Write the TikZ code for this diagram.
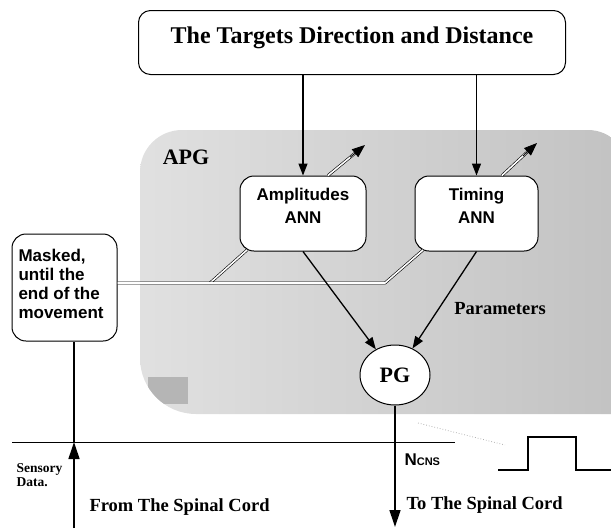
\documentclass[tikz,border=0pt]{standalone}
\usepackage{fontspec}
\setmainfont{Liberation Serif}
\newfontfamily\sansf{Liberation Sans}
\usetikzlibrary{arrows.meta,calc,shapes.geometric}
\begin{document}
\begin{tikzpicture}[x=1pt,y=-1pt,
  box/.style={draw, line width=1pt, rounded corners=14pt, fill=white},
  arr/.style={line width=1.3pt, -{Triangle[length=12pt,width=9pt]}},
  bigarr/.style={line width=1.3pt, -{Triangle[length=17pt,width=11pt]}},
  dbl/.style={draw=black, double=white, double distance=1.6pt, line width=0.6pt},
  dbltip/.style={line width=0.8pt, -{Triangle[length=13pt,width=10pt]}},
  serifb/.style={font=\fontsize{18.5}{20}\selectfont\bfseries},
  sansb/.style={font=\sansf\fontsize{17}{23}\selectfont\bfseries},
]
\useasboundingbox (0,0) rectangle (611,528);
% APG region
\def\regionpath{(628,414) [rounded corners=40pt] -- (628,130) [rounded corners=42pt] -- (140,130) [rounded corners=56pt] -- (140,414) [sharp corners] -- cycle}
\shade[left color=gray!24, middle color=gray!15, right color=gray!48] \regionpath;
\begin{scope}
  \clip \regionpath;
  \fill[gray!58] (148,377) rectangle (188,404);
\end{scope}
% title
\node[box, rounded corners=12pt, minimum width=427pt, inner sep=0pt, text height=33pt, text depth=31pt,
  anchor=north west, font=\fontsize{24}{26}\selectfont\bfseries] (title) at (138,10) {The Targets Direction and Distance};
% APG label
\node[font=\fontsize{22}{24}\selectfont\bfseries] (apg) at (186,157) {APG};
% ANN boxes
\node[box, minimum width=126pt, minimum height=75pt] (amp) at (303,213.5) {};
\node[sansb, align=center] (amptext) at (303,205.5) {Amplitudes\\ANN};
\node[box, minimum width=123pt, minimum height=75pt] (tim) at (476.5,213.5) {};
\node[sansb, align=center] (timtext) at (476.5,205.5) {Timing\\ANN};
% masked box
\node[box, minimum width=105pt, minimum height=107pt] (masked) at (64.5,287.5) {};
\node[font=\sansf\fontsize{17}{19}\selectfont\bfseries, align=left, anchor=west] (maskedtext) at (15,284) {Masked,\\until the\\end of the\\movement};
% PG
\node[draw, ellipse, line width=1pt, fill=white, minimum width=70pt, minimum height=60pt, inner sep=0pt,
  font=\fontsize{22}{24}\selectfont\bfseries] (pg) at (395,375) {PG};
% arrows from title
\draw[arr] (amp.north |- title.south) -- (amp.north);
\draw[arr] (tim.north |- title.south) -- (tim.north);
% double arrows upward
\coordinate (ampst) at ($(amp.north)+(25,0)$);
\coordinate (ampout) at (365,145);
\coordinate (timst) at ($(tim.north)+(25.5,0)$);
\coordinate (timout) at (537,143);
\draw[dbl, shorten >=8pt] (ampst) -- (ampout);
\draw[dbltip] ($(ampst)!0.6!(ampout)$) -- (ampout);
\draw[dbl, shorten >=8pt] (timst) -- (timout);
\draw[dbltip] ($(timst)!0.6!(timout)$) -- (timout);
% double lines to masked box
\coordinate (j0) at ($(masked.east)+(0,-4.5)$);
\coordinate (j1) at (210,283);
\coordinate (j2) at (385,283);
\coordinate (ampbl) at (247,250);
\coordinate (timbl) at (423,250);
\draw[dbl] (j1) -- (ampbl);
\draw[dbl] (j0) -- (j2) -- (timbl);
% arrows to PG
\draw[arr] (amp.south) -- (pg);
\draw[arr] (tim.south) -- (pg);
\node[serifb] (par) at (500,309) {Parameters};
% ground line
\coordinate (g0) at (12,442);
\coordinate (g1) at (455,442);
\draw[line width=1pt] (g0) -- (g1);
% dotted pointer
\coordinate (d1) at (418,423);
\coordinate (d2) at (505,445);
\draw[gray!60, dotted, line width=0.8pt] (d1) -- (d2);
% step signal
\coordinate (s0) at (498,470);
\coordinate (s1) at (528,470);
\coordinate (s2) at (528,437);
\coordinate (s3) at (576,437);
\coordinate (s4) at (576,470);
\coordinate (s5) at (611,470);
\draw[line width=1.1pt] (s0) -- (s1) -- (s2) -- (s3) -- (s4) -- (s5);
% sensory arrow
\coordinate (sb) at (74,528);
\coordinate (sg) at (74,442);
\draw[bigarr] (sb) -- (sg);
\draw[line width=1.3pt] (sg) -- (masked.south -| sg);
% PG output arrow
\coordinate (pb) at (395,527);
\draw[bigarr] (pg.south) -- (pb);
% texts
\node[font=\sansf\bfseries, anchor=west] (ncns) at (401,460) {\fontsize{17}{19}\selectfont N\fontsize{11}{12}\selectfont CNS};
\node[font=\fontsize{13.5}{14.5}\selectfont\bfseries, align=left, anchor=west] (sens) at (13,475) {Sensory\\Data.};
\node[serifb, anchor=west] (from) at (86,507) {From The Spinal Cord};
\node[serifb, anchor=west] (to) at (403,505) {To The Spinal Cord};
\end{tikzpicture}
\end{document}
